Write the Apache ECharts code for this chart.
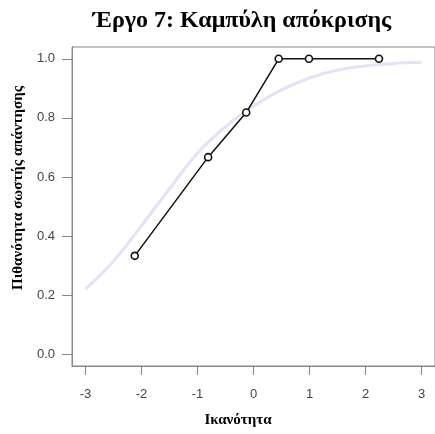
<!DOCTYPE html>
<html>
<head>
<meta charset="utf-8">
<script src="https://cdn.jsdelivr.net/npm/echarts@6/dist/echarts.min.js"></script>
<style>
  html, body { margin: 0; padding: 0; background: #fff; }
  #chart { width: 435px; height: 434px; }
</style>
</head>
<body>
<div id="chart"></div>
<script>
// Observed proportion correct per ability group
const obsTheta = [-2.12, -0.81, -0.13, 0.45, 0.99, 2.24];
const obsProb = [0.333, 0.667, 0.818, 1.0, 1.0, 1.0];

// Model item characteristic curve, read as (ability, probability) pairs
const iccTheta = [-3.0, -2.5, -2.0, -1.5, -1.0, -0.5, 0.0, 0.5, 1.0, 1.5, 2.0, 2.5, 3.0];
const iccProb = [0.22, 0.315, 0.435, 0.56, 0.68, 0.77, 0.84, 0.895, 0.935, 0.962, 0.976, 0.984, 0.988];

const xTicks = [-3, -2, -1, 0, 1, 2, 3];
const yTicks = [0, 0.2, 0.4, 0.6, 0.8, 1.0];

const titleText = 'Έργο 7: Καμπύλη απόκρισης';
const xName = 'Ικανότητα';
const yName = 'Πιθανότητα σωστής απάντησης';

const axisGrey = '#888888';
const labelGrey = '#444444';
const serif = '"Liberation Serif", "DejaVu Serif", serif';
const sans = '"Liberation Sans", Arial, sans-serif';

const chart = echarts.init(document.getElementById('chart'), null, { renderer: 'canvas' });

chart.setOption({
  animation: false,
  backgroundColor: '#ffffff',
  title: {
    text: titleText,
    left: 237,
    top: 4,
    textAlign: 'center',
    textStyle: { fontFamily: serif, fontWeight: 'bold', fontSize: 24, color: '#000' }
  },
  graphic: [
    {
      type: 'text',
      x: 238,
      y: 420,
      style: {
        text: xName,
        fontFamily: serif, fontWeight: 'bold', fontSize: 15,
        fill: '#000', textAlign: 'center', textVerticalAlign: 'middle'
      }
    },
    {
      type: 'text',
      x: 18,
      y: 188,
      rotation: Math.PI / 2,
      style: {
        text: yName,
        fontFamily: serif, fontWeight: 'bold', fontSize: 15,
        fill: '#000', textAlign: 'center', textVerticalAlign: 'middle'
      }
    }
  ],
  grid: {
    left: 72,
    top: 47,
    right: -7,
    bottom: 68,
    show: true,
    borderColor: axisGrey,
    borderWidth: 1,
    containLabel: false
  },
  xAxis: {
    type: 'value',
    min: -3.24,
    max: 3.24,
    splitLine: { show: false },
    axisLine: { show: true, onZero: false, lineStyle: { color: axisGrey, width: 1 } },
    axisTick: { show: true, inside: false, length: 9, customValues: xTicks, lineStyle: { color: axisGrey } },
    axisLabel: {
      show: true, margin: 22, customValues: xTicks,
      fontFamily: sans, fontSize: 13, color: labelGrey,
      formatter: v => String(Math.round(v))
    }
  },
  yAxis: {
    type: 'value',
    min: -0.04,
    max: 1.04,
    splitLine: { show: false },
    axisLine: { show: true, onZero: false, lineStyle: { color: axisGrey, width: 1 } },
    axisTick: { show: true, inside: false, length: 10, customValues: yTicks, lineStyle: { color: axisGrey } },
    axisLabel: {
      show: true, margin: 17, customValues: yTicks,
      fontFamily: sans, fontSize: 13, color: labelGrey,
      formatter: v => v.toFixed(1)
    }
  },
  series: [
    {
      name: 'ICC',
      type: 'line',
      smooth: 0.4,
      showSymbol: false,
      data: iccTheta.map((t, i) => [t, iccProb[i]]),
      lineStyle: { color: '#e2e2f8', width: 3 },
      z: 1
    },
    {
      name: 'observed',
      type: 'line',
      data: obsTheta.map((t, i) => [t, obsProb[i]]),
      symbol: 'circle',
      symbolSize: 7,
      itemStyle: { color: '#ffffff', borderColor: '#111111', borderWidth: 1.6 },
      lineStyle: { color: '#111111', width: 1.5 },
      z: 3
    }
  ]
});
</script>
</body>
</html>
